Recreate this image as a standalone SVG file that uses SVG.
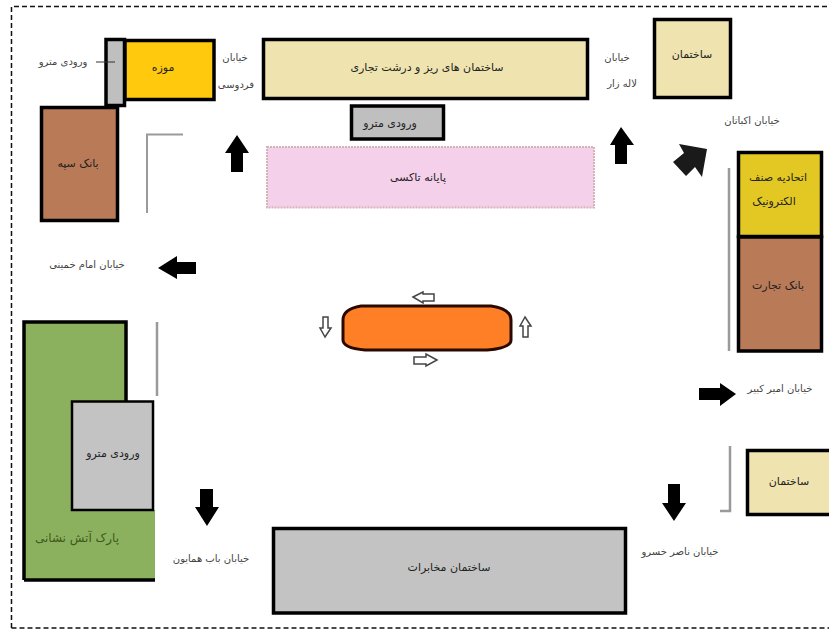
<svg xmlns="http://www.w3.org/2000/svg" width="829" height="630" viewBox="0 0 829 630">
<style>
.b{stroke:#000;stroke-width:3.5}
.t{font-family:"DejaVu Sans","Noto Sans",sans-serif;font-size:10px;fill:#444;text-anchor:middle;dominant-baseline:central;direction:rtl}
.n{font-size:11px;fill:#222}
.g{fill:none;stroke:#9a9a9a;stroke-width:2.5}
.a{fill:#000}
.o{fill:#fff;stroke:#444;stroke-width:1.500}
</style>
<rect width="829" height="630" fill="#fff"/>
<path d="M11.5 628V6.500H829M11.500 628H829" fill="none" stroke="#111" stroke-width="1.500" stroke-dasharray="5 3"/>
<g id="metro-strip"><rect class="b" x="106" y="39.500" width="18.500" height="66" fill="#bfbfbf"/><path d="M96 62H115" stroke="#333" stroke-width="1"/></g>
<g id="museum"><rect class="b" x="125" y="40.500" width="89" height="59" fill="#ffc90e"/><text class="t n" x="163" y="67">موزه</text></g>
<g id="metro-label"><text class="t" x="63" y="61">ورودی مترو</text></g>
<g id="bank-sepah"><rect class="b" x="41.500" y="107.500" width="76" height="113" fill="#b97a57"/><text class="t n" x="78" y="163">بانک سپه</text></g>
<g id="ferdowsi"><text class="t" x="235" y="57">خیابان</text><text class="t" x="236" y="84">فردوسی</text></g>
<g id="commercial"><rect class="b" x="263.500" y="39.500" width="324" height="59" fill="#efe4b0"/><text class="t n" x="427" y="67">ساختمان های ریز و درشت تجاری</text></g>
<g id="metro-center"><rect class="b" x="351.500" y="106" width="92" height="33" fill="#bfbfbf"/><text class="t n" x="390" y="123">ورودی مترو</text></g>
<g id="taxi"><rect x="267" y="147" width="327" height="60.500" fill="#f5d0ea" stroke="#d4b4b8" stroke-width="2" stroke-dasharray="2 1"/><text class="t n" x="418" y="177">پایانه تاکسی</text></g>
<g id="lalezar"><text class="t" x="617" y="57">خیابان</text><text class="t" x="622" y="83">لاله زار</text></g>
<g id="building-ne"><rect class="b" x="654.500" y="19.500" width="76" height="78" fill="#efe4b0"/><text class="t n" x="692" y="54">ساختمان</text></g>
<g id="ekbatan"><text class="t" x="752" y="120">خیابان اکباتان</text></g>
<g id="union"><rect class="b" x="738.500" y="152.500" width="83" height="84" fill="#e3c823"/><text class="t n" x="778" y="177">اتحادیه صنف</text><text class="t n" x="774" y="201">الکترونیک</text></g>
<g id="bank-tejarat"><rect class="b" x="738.500" y="237" width="83" height="114" fill="#b97a57"/><text class="t n" x="778" y="285">بانک تجارت</text></g>
<g id="amirkabir"><text class="t" x="780" y="388">خیابان امیر کبیر</text></g>
<g id="building-se"><rect class="b" x="747.500" y="450.500" width="84" height="64" fill="#efe4b0"/><text class="t n" x="789" y="481">ساختمان</text></g>
<g id="naser"><text class="t" x="680" y="551">خیابان ناصر خسرو</text></g>
<g id="telecom"><rect class="b" x="273.500" y="528.500" width="352" height="84.500" fill="#c3c3c3"/><text class="t n" x="449" y="567">ساختمان مخابرات</text></g>
<g id="homayoun"><text class="t" x="211" y="558">خیابان باب همایون</text></g>
<g id="park"><path d="M24 322H126V402H153V510H155V580H24Z" fill="#8cb15e"/><path d="M24 580V322H126V402M155 580H24" fill="none" stroke="#000" stroke-width="3.500"/><text class="t" x="77" y="538" style="fill:#3d5a20;font-size:12px">پارک آتش نشانی</text></g>
<g id="metro-park"><rect x="72" y="401.500" width="81" height="108.500" fill="#c3c3c3" stroke="#000" stroke-width="2.500"/><text class="t n" x="113" y="453">ورودی مترو</text></g>
<g id="imam"><text class="t" x="87" y="264">خیابان امام خمینی</text></g>
<g id="roundabout"><path d="M343 320Q343 309 361 306H491Q511 309 511 320V340Q511 348 487 350H365Q343 348 343 340Z" fill="#ff7f27" stroke="#2a0a00" stroke-width="3"/></g>
<g id="connectors">
<path class="g" d="M147 213V134.500H183" style="stroke-width:2"/>
<path class="g" d="M729 168V351"/>
<path class="g" d="M157 322V396"/>
<path class="g" d="M730 446V511H720"/>
<polygon class="a" points="237,135 249,153 243,153 243,172 231,172 231,153 225,153"/>
<polygon class="a" points="158,268 177,256 177,262 196,262 196,274 177,274 177,279"/>
<polygon class="a" points="621,127 634,145 627,145 627,164 615,164 615,145 610,145"/>
<polygon fill="#1a1a1a" points="707,149 679,144 684,153 673,162 686,176 695,167 702,177"/>
<polygon class="a" points="736,394 720,406 720,400 699,400 699,388 720,388 720,383"/>
<polygon class="a" points="674,521 686,503 680,503 680,484 668,484 668,503 662,503"/>
<polygon class="a" points="207,526 219,507 213,507 213,489 200,489 200,507 195,507"/>
<polygon class="o" points="413,297 423,292 423,294 434,294 434,301 423,301 423,303"/>
<polygon class="o" points="437,360 426,354 426,357 414,357 414,364 426,364 426,366"/>
<polygon class="o" points="325,337 320,328 323,328 323,317 328,317 328,328 331,328"/>
<polygon class="o" points="525,317 520,326 523,326 523,337 528,337 528,326 531,326"/>
</g>
</svg>
